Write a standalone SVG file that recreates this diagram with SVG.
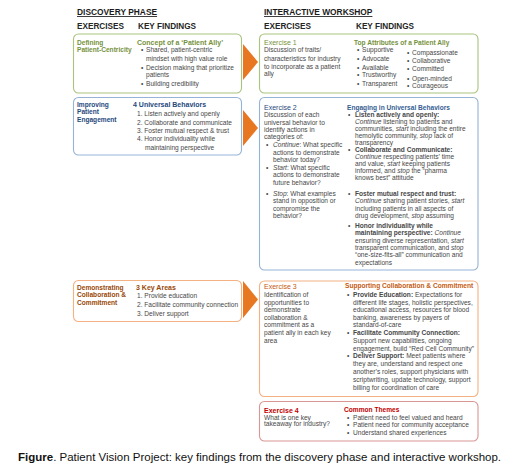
<svg xmlns="http://www.w3.org/2000/svg" width="520" height="471" viewBox="0 0 520 471">
<style>
text{font-family:"Liberation Sans",Arial,sans-serif;font-size:6.6px;fill:#474747}
.b{font-weight:bold}
.i{font-style:italic}
.ph{font-size:8.4px;font-weight:bold;fill:#1a1a1a;text-decoration:underline}
.ch{font-size:8.2px;font-weight:bold;fill:#262626}
.box{fill:#fff;stroke-width:1.1}
.g{stroke:#a9c47f}.gt{fill:#76923c}
.bl{stroke:#95b3d7}.blt{fill:#1f497d}.blt2{fill:#366092}
.o{stroke:#f4b183}.ot{fill:#984807}.ot2{fill:#c55a11}
.r{stroke:#d99694}.rt{fill:#c00000}
.hd{font-size:7px}
.arrow{fill:#e87722}
.cap{font-size:11.5px;fill:#111}
</style>

<g id="headers">
<text class="ph" x="77" y="15">DISCOVERY PHASE</text>
<text class="ch" x="77" y="28.5">EXERCISES</text>
<text class="ch" x="138" y="28.5">KEY FINDINGS</text>
<text class="ph" x="264" y="15">INTERACTIVE WORKSHOP</text>
<text class="ch" x="264" y="28.5">EXERCISES</text>
<text class="ch" x="356" y="28.5">KEY FINDINGS</text>
</g>

<g id="connectors">
<polygon class="arrow" points="243,44 258,62 243,80"/>
<polygon class="arrow" points="243,110 258,128 243,146"/>
<polygon class="arrow" points="243,281 258,299.5 243,318"/>
</g>

<g id="discovery-1">
<rect class="box g" x="73.5" y="34" width="168" height="59" rx="5"/>
<text class="b gt" x="77" y="44.8">Defining</text>
<text class="b gt" x="77" y="51.8">Patient-Centricity</text>
<text class="b gt hd" x="137" y="44.8">Concept of a ‘Patient Ally’</text>
<text x="141" y="52.3">•</text><text x="146" y="52.3">Shared, patient-centric</text>
<text x="146" y="60.6">mindset with high value role</text>
<text x="141" y="70">•</text><text x="146" y="70">Decision making that prioritize</text>
<text x="146" y="77.3">patients</text>
<text x="141" y="86.3">•</text><text x="146" y="86.3">Building credibility</text>
</g>

<g id="discovery-2">
<rect class="box bl" x="73.5" y="97.5" width="168" height="57.5" rx="5"/>
<text class="b blt" x="77" y="106.6">Improving</text>
<text class="b blt" x="77" y="114">Patient</text>
<text class="b blt" x="77" y="122.3">Engagement</text>
<text class="b blt hd" x="133" y="107.3">4 Universal Behaviors</text>
<text x="137" y="115.6">1. Listen actively and openly</text>
<text x="137" y="124.6">2. Collaborate and communicate</text>
<text x="137" y="133.3">3. Foster mutual respect &amp; trust</text>
<text x="137" y="141.3">4. Honor individuality while</text>
<text x="145" y="149.6">maintaining perspective</text>
</g>

<g id="discovery-3">
<rect class="box o" x="73.5" y="280.5" width="168" height="41" rx="5"/>
<text class="b ot" x="77" y="289.6">Demonstrating</text>
<text class="b ot" x="77" y="297.3">Collaboration &amp;</text>
<text class="b ot" x="77" y="305">Commitment</text>
<text class="b ot hd" x="136" y="289.6">3 Key Areas</text>
<text x="137" y="298">1. Provide education</text>
<text x="137" y="307.3">2. Facilitate community connection</text>
<text x="137" y="315.6">3. Deliver support</text>
</g>

<g id="exercise-1">
<rect class="box g" x="259.5" y="34" width="218.5" height="59" rx="5"/>
<text class="gt hd" x="264" y="45">Exercise 1</text>
<text x="264" y="52.3">Discussion of traits/</text>
<text x="264" y="60.6">characteristics for industry</text>
<text x="264" y="69">to incorporate as a patient</text>
<text x="264" y="76.3">ally</text>
<text class="b gt" x="354" y="45">Top Attributes of a Patient Ally</text>
<text x="357" y="52.3">•</text><text x="362" y="52.3">Supportive</text>
<text x="357" y="60.6">•</text><text x="362" y="60.6">Advocate</text>
<text x="357" y="70">•</text><text x="362" y="70">Available</text>
<text x="357" y="77.3">•</text><text x="362" y="77.3">Trustworthy</text>
<text x="357" y="85.6">•</text><text x="362" y="85.6">Transparent</text>
<text x="407" y="54.6">•</text><text x="412" y="54.6">Compassionate</text>
<text x="407" y="63">•</text><text x="412" y="63">Collaborative</text>
<text x="407" y="71.3">•</text><text x="412" y="71.3">Committed</text>
<text x="407" y="80.6">•</text><text x="412" y="80.6">Open-minded</text>
<text x="407" y="88.3">•</text><text x="412" y="88.3">Courageous</text>
</g>

<g id="exercise-2">
<rect class="box bl" x="259.5" y="97.5" width="218.5" height="172.5" rx="5"/>
<text class="blt hd" x="264" y="110">Exercise 2</text>
<text x="264" y="117.3">Discussion of each</text>
<text x="264" y="124.6">universal behavior to</text>
<text x="264" y="132.3">identify actions in</text>
<text x="264" y="139">categories of:</text>
<text x="266" y="147.3">•</text><text x="273" y="147.3"><tspan class="i">Continue</tspan>: What specific</text>
<text x="273" y="154.6">actions to demonstrate</text>
<text x="273" y="162.3">behavior today?</text>
<text x="266" y="170">•</text><text x="273" y="170"><tspan class="i">Start</tspan>: What specific</text>
<text x="273" y="177.3">actions to demonstrate</text>
<text x="273" y="184.6">future behavior?</text>
<text x="266" y="195.8">•</text><text x="273" y="195.8"><tspan class="i">Stop</tspan>: What examples</text>
<text x="273" y="203.2">stand in opposition or</text>
<text x="273" y="210.6">compromise the</text>
<text x="273" y="218">behavior?</text>

<text class="b blt2" x="347" y="109.6">Engaging in Universal Behaviors</text>
<text x="348" y="116.6">•</text><text class="b" x="355" y="116.6">Listen actively and openly:</text>
<text x="355" y="124"><tspan class="i">Continue</tspan> listening to patients and</text>
<text x="355" y="130.6">communities, <tspan class="i">start</tspan> including the entire</text>
<text x="355" y="138">hemolytic community, <tspan class="i">stop</tspan> lack of</text>
<text x="355" y="144.6">transparency</text>
<text x="348" y="151.6">•</text><text class="b" x="355" y="151.6">Collaborate and Communicate:</text>
<text x="355" y="159"><tspan class="i">Continue</tspan> respecting patients’ time</text>
<text x="355" y="165.6">and value, <tspan class="i">start</tspan> keeping patients</text>
<text x="355" y="173">informed, and <tspan class="i">stop</tspan> the “pharma</text>
<text x="355" y="179.6">knows best” attitude</text>
<text x="348" y="195.8">•</text><text class="b" x="355" y="195.8">Foster  mutual respect and trust:</text>
<text x="355" y="203.2"><tspan class="i">Continue</tspan> sharing patient stories, <tspan class="i">start</tspan></text>
<text x="355" y="210.6">including patients in all aspects of</text>
<text x="355" y="218">drug development, <tspan class="i">stop</tspan> assuming</text>
<text x="348" y="227.8">•</text><text class="b" x="355" y="227.8">Honor individuality while</text>
<text x="355" y="235.2"><tspan class="b">maintaining perspective:</tspan> <tspan class="i">Continue</tspan></text>
<text x="355" y="242.6">ensuring diverse representation, <tspan class="i">start</tspan></text>
<text x="355" y="250">transparent communication, and <tspan class="i">stop</tspan></text>
<text x="355" y="257.4">“one-size-fits-all” communication and</text>
<text x="355" y="264.8">expectations</text>
</g>

<g id="exercise-3">
<rect class="box o" x="259.5" y="281" width="218.5" height="115.5" rx="5"/>
<text class="ot2 hd" x="264" y="289">Exercise 3</text>
<text x="264" y="297.3">Identification of</text>
<text x="264" y="305">opportunities to</text>
<text x="264" y="312.3">demonstrate</text>
<text x="264" y="319.6">collaboration &amp;</text>
<text x="264" y="326.6">commitment as a</text>
<text x="264" y="335">patient ally in each key</text>
<text x="264" y="343">area</text>
<text class="b ot2" x="345" y="288.3">Supporting Collaboration &amp; Commitment</text>
<text x="347" y="297.3">•</text><text x="353" y="297.3"><tspan class="b">Provide Education:</tspan> Expectations for</text>
<text x="353" y="305">different life stages, holistic perspectives,</text>
<text x="353" y="312.3">educational access, resources for blood</text>
<text x="353" y="319.6">banking, awareness by payers of</text>
<text x="353" y="326.6">standard-of-care</text>
<text x="347" y="335">•</text><text class="b" x="353" y="335">Facilitate Community Connection:</text>
<text x="353" y="343">Support new capabilities, ongoing</text>
<text x="353" y="350.6">engagement, build “Red Cell Community”</text>
<text x="347" y="358.3">•</text><text x="353" y="358.3"><tspan class="b">Deliver Support:</tspan> Meet patients where</text>
<text x="353" y="366.3">they are, understand and respect one</text>
<text x="353" y="374.3">another’s roles, support physicians with</text>
<text x="353" y="382">scriptwriting, update technology, support</text>
<text x="353" y="389.6">billing for coordination of care</text>
</g>

<g id="exercise-4">
<rect class="box r" x="259.5" y="401.5" width="218.5" height="39.5" rx="5"/>
<text class="b rt hd" x="264" y="413">Exercise 4</text>
<text x="264" y="420">What is one key</text>
<text x="264" y="426.3">takeaway for industry?</text>
<text class="b rt" x="344" y="412.3">Common Themes</text>
<text x="347" y="420">•</text><text x="353" y="420">Patient need to feel valued and heard</text>
<text x="347" y="427.3">•</text><text x="353" y="427.3">Patient need for community acceptance</text>
<text x="347" y="434.6">•</text><text x="353" y="434.6">Understand shared experiences</text>
</g>

<g id="caption">
<text class="cap" x="18" y="461"><tspan font-weight="bold">Figure</tspan>. Patient Vision Project: key findings from the discovery phase and interactive workshop.</text>
</g>
</svg>
